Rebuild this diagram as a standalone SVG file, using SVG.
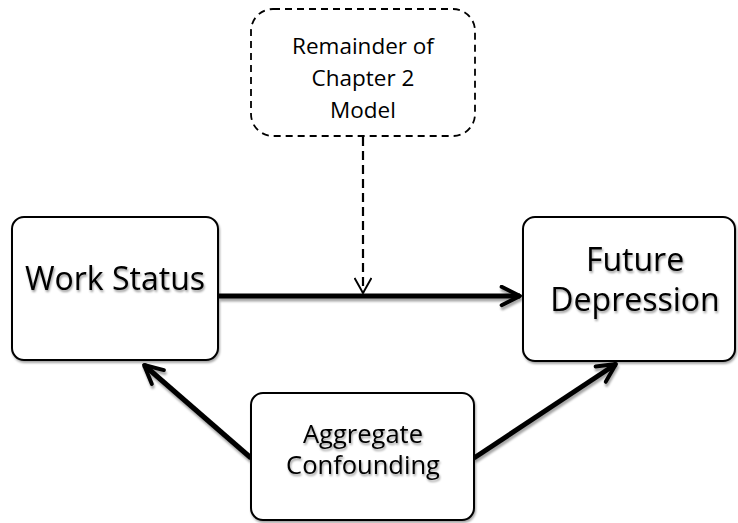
<svg xmlns="http://www.w3.org/2000/svg" width="738" height="523" viewBox="0 0 738 523">
  <defs>
    <style>
      .box { fill: #ffffff; stroke: #000000; stroke-width: 2; }
      .dash { fill: #ffffff; stroke: #000000; stroke-width: 1.8; stroke-dasharray: 7 5; }
      .lbl { font-family: "Open Sans", "Liberation Sans", sans-serif; fill: #000000; text-anchor: middle; }
      .big { font-size: 32px; }
      .mid { font-size: 25.5px; }
      .small { font-size: 22.5px; }
      .thick { stroke: #000000; stroke-width: 5; fill: none; }
      .thin { stroke: #000000; stroke-width: 2.2; fill: none; stroke-dasharray: 9 5; }
    </style>
    <filter id="boxShadow" x="-10%" y="-10%" width="125%" height="130%">
      <feDropShadow dx="1" dy="2" stdDeviation="1.2" flood-color="#000000" flood-opacity="0.35"/>
    </filter>
    <filter id="textShadow" x="-10%" y="-20%" width="125%" height="150%">
      <feDropShadow dx="1" dy="2" stdDeviation="1" flood-color="#000000" flood-opacity="0.4"/>
    </filter>
    <filter id="lineShadow" x="-5%" y="-50%" width="110%" height="200%">
      <feDropShadow dx="1" dy="3" stdDeviation="1" flood-color="#000000" flood-opacity="0.35"/>
    </filter>
    <marker id="openHead" viewBox="0 0 10 10" refX="9" refY="5" markerWidth="4.6" markerHeight="4.6" markerUnits="strokeWidth" orient="auto">
      <path d="M1,1 L9,5 L1,9" fill="none" stroke="#000000" stroke-width="1.7" stroke-linecap="round" stroke-linejoin="round"/>
    </marker>
    <marker id="thinHead" viewBox="0 0 20 20" refX="18" refY="10" markerWidth="8.5" markerHeight="8.5" markerUnits="strokeWidth" orient="auto">
      <path d="M2,1 L18,10 L2,19" fill="none" stroke="#000000" stroke-width="2"/>
    </marker>
  </defs>

  <!-- connectors -->
  <g id="connectors">
    <path class="thin" d="M363,137 L363,293" marker-end="url(#thinHead)"/>
    <g filter="url(#lineShadow)">
      <path class="thick" d="M219,296 L520,296" marker-end="url(#openHead)"/>
      <path class="thick" d="M251,458 L144,365" marker-end="url(#openHead)"/>
      <path class="thick" d="M474,458 L616,364" marker-end="url(#openHead)"/>
    </g>
  </g>

  <!-- nodes -->
  <g id="remainder">
    <rect class="dash" x="251" y="9" width="224" height="127" rx="22"/>
    <text class="lbl small" x="363" y="54">Remainder of</text>
    <text class="lbl small" x="363" y="86">Chapter 2</text>
    <text class="lbl small" x="363" y="118">Model</text>
  </g>

  <g id="work-status">
    <rect class="box" x="12" y="217" width="206" height="143" rx="12" filter="url(#boxShadow)"/>
    <text class="lbl big" x="115" y="290" filter="url(#textShadow)">Work Status</text>
  </g>

  <g id="future-depression">
    <rect class="box" x="523" y="217" width="212" height="144" rx="12" filter="url(#boxShadow)"/>
    <text class="lbl big" x="635" y="271" filter="url(#textShadow)">Future</text>
    <text class="lbl big" x="635" y="311" filter="url(#textShadow)">Depression</text>
  </g>

  <g id="aggregate-confounding">
    <rect class="box" x="251" y="393" width="223" height="127" rx="12" filter="url(#boxShadow)"/>
    <text class="lbl mid" x="363" y="443" filter="url(#textShadow)">Aggregate</text>
    <text class="lbl mid" x="363" y="474" filter="url(#textShadow)">Confounding</text>
  </g>
</svg>
